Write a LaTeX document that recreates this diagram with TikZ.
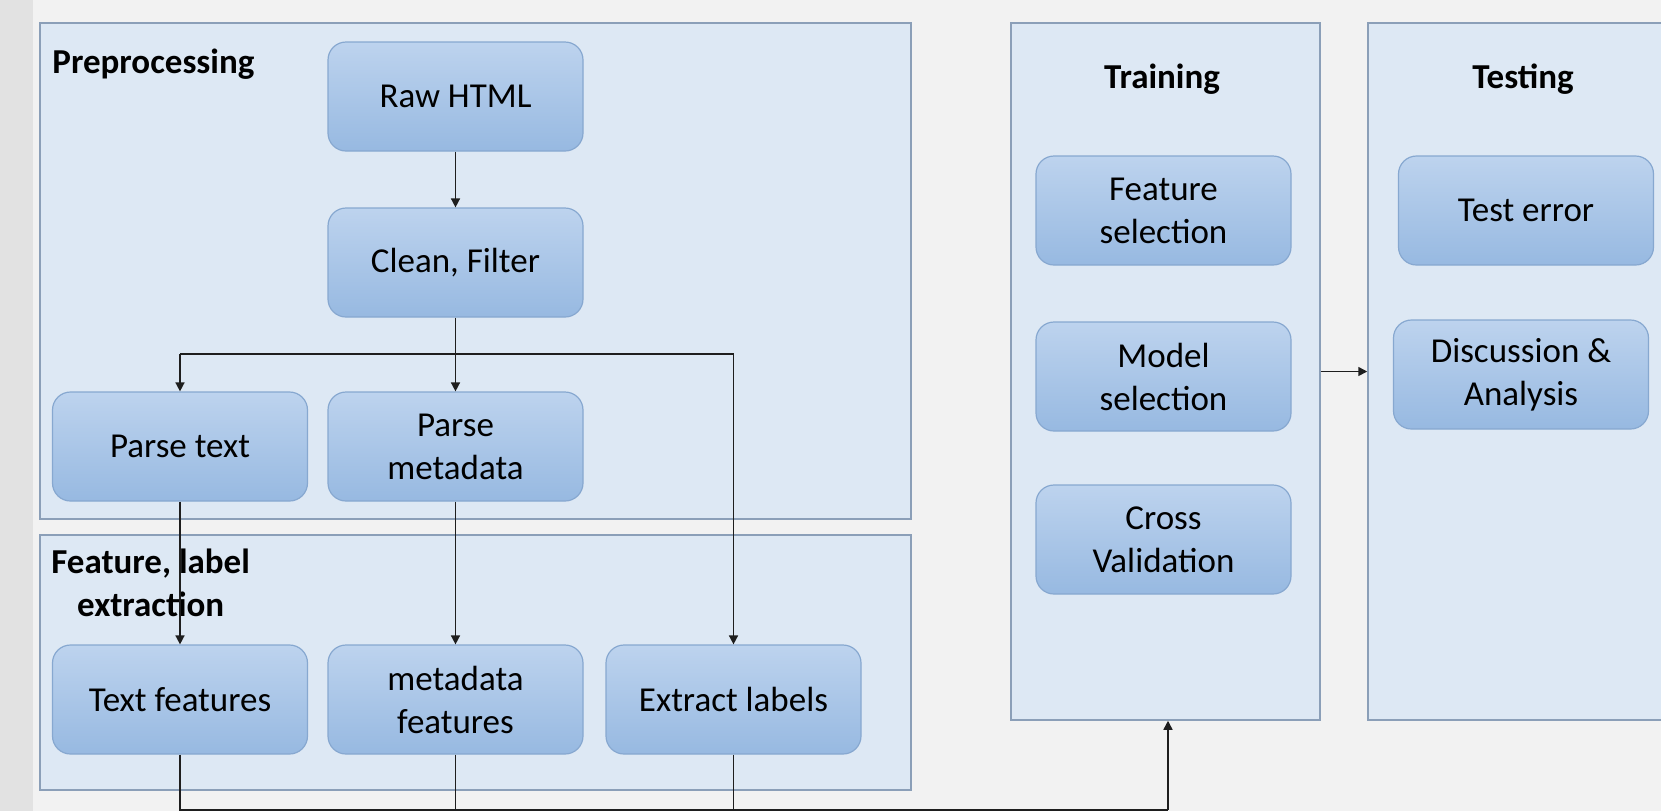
\documentclass[tikz,border=0pt]{standalone}
\usepackage{fontspec}
\setmainfont{Carlito}
\usetikzlibrary{arrows.meta}

\definecolor{pagebg}{HTML}{F2F2F2}
\definecolor{stripbg}{HTML}{E2E2E2}
\definecolor{panelfill}{HTML}{DDE8F4}
\definecolor{paneledge}{HTML}{8B9FB8}
\definecolor{boxtop}{HTML}{BDD3EE}
\definecolor{boxbot}{HTML}{97B9E1}
\definecolor{boxedge}{HTML}{87A8D0}
\definecolor{wirecol}{HTML}{1E1E1E}

\tikzset{
  panel/.style={draw=paneledge,fill=panelfill,line width=0.75pt,inner sep=0},
  stepbox/.style={draw=boxedge,line width=0.6pt,rounded corners=9pt,
    top color=boxtop,bottom color=boxbot,minimum width=127.5pt,minimum height=54.5pt,
    align=center,inner sep=0,font=\fontsize{17.5}{21.5}\selectfont},
  title/.style={inner sep=0,font=\fontsize{17.5}{21.5}\selectfont\bfseries},
  wire/.style={draw=wirecol,line width=0.75pt},
  flow/.style={wire,-{Triangle[length=4.5pt,width=4.5pt]}},
}

\begin{document}
\begin{tikzpicture}[x=0.5pt,y=-0.5pt]
  \useasboundingbox (0,0) rectangle (1661,811);
  \fill[pagebg] (0,0) rectangle (1661,811);
  \fill[stripbg] (0,0) rectangle (33,811);
  % stages
  \node[panel,minimum width=435.5pt,minimum height=248pt] (pre) at (475.5,271) {};
  \node[panel,minimum width=435.5pt,minimum height=127.5pt] (feat) at (475.5,662.5) {};
  \node[panel,minimum width=154.5pt,minimum height=348.5pt] (train) at (1165.5,371.5) {};
  \node[panel,minimum width=170pt,minimum height=348.5pt] (test) at (1538,371.5) {};
  \node[title,anchor=base west] (pretitle) at (52,73) {Preprocessing};
  \node[title,anchor=north west,align=center] (feattitle) at (51,549) {Feature, label\\extraction};
  \node[title,anchor=base] (traintitle) at (1162,88) {Training};
  \node[title,anchor=base] (testtitle) at (1523,88) {Testing};
  % steps
  \node[stepbox] (raw) at (455.5,96.5) {Raw HTML};
  \node[stepbox] (clean) at (455.5,262.5) {Clean, Filter};
  \node[stepbox] (ptext) at (180,446.5) {Parse text};
  \node[stepbox] (pmeta) at (455.5,446.5) {Parse\\metadata};
  \node[stepbox] (tfeat) at (180,699.5) {Text features};
  \node[stepbox] (mfeat) at (455.5,699.5) {metadata\\features};
  \node[stepbox] (elab) at (733.5,699.5) {Extract labels};
  \node[stepbox] (fsel) at (1163.5,210.5) {Feature\\selection};
  \node[stepbox] (msel) at (1163.5,376.5) {Model\\selection};
  \node[stepbox] (cval) at (1163.5,539.5) {Cross\\Validation};
  \node[stepbox] (terr) at (1526,210.5) {Test error};
  \node[stepbox] (disc) at (1521,374.5) {Discussion \&\\Analysis};
  % connectors
  \coordinate (split) at (455.5,354);
  \coordinate (bus) at (1168,810);
  \draw[flow] (raw) -- (clean);
  \draw[wire] (clean) -- (split);
  \draw[wire] (ptext.north |- split) -- (elab.north |- split);
  \draw[flow] (ptext.north |- split) -- (ptext);
  \draw[flow] (split) -- (pmeta);
  \draw[flow] (elab.north |- split) -- (elab);
  \draw[flow] (ptext) -- (tfeat);
  \draw[flow] (pmeta) -- (mfeat);
  \draw[wire] (tfeat) |- (bus);
  \draw[wire] (mfeat) -- (mfeat |- bus);
  \draw[wire] (elab) -- (elab |- bus);
  \draw[flow] (bus) -- (bus |- train.south);
  \draw[flow] (train) -- (test);
\end{tikzpicture}
\end{document}
